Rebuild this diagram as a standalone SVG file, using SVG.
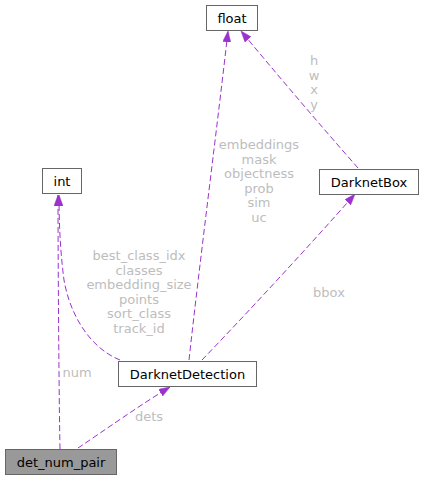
<svg xmlns="http://www.w3.org/2000/svg" width="423" height="480" viewBox="0 0 423 480">
<defs>
<marker id="arr" markerWidth="11" markerHeight="8" refX="11" refY="4" orient="auto" markerUnits="userSpaceOnUse">
<path d="M0,0 L11,4 L0,8 z" fill="#9a32cd" stroke="#9a32cd" stroke-width="0.5"/>
</marker>
<style>
.node rect{fill:#ffffff;stroke:#666666;stroke-width:1}
.node text{font-family:"DejaVu Sans",sans-serif;font-size:13px;fill:#000000;text-anchor:middle}
.edge{fill:none;stroke:#9a32cd;stroke-width:1;stroke-dasharray:6,3;marker-end:url(#arr)}
.lbl{font-family:"DejaVu Sans",sans-serif;font-size:13px;fill:#bdbdbd;text-anchor:middle}
</style>
</defs>
<rect width="423" height="480" fill="#ffffff"/>
<g id="connectors">
<path class="edge" d="M60,449 C59,400 58,260 58,195"/>
<path class="edge" d="M120,360 C90,348 70,315 64,280 C60,250 59,220 59,195"/>
<path class="edge" d="M78,448 C105,430 140,405 170,387"/>
<path class="edge" d="M189,360 C200,260 218,120 228,31"/>
<path class="edge" d="M202,360 C250,310 310,245 355,194"/>
<path class="edge" d="M358,168 C320,125 275,72 241,31"/>
<text class="lbl" x="77" y="377">num</text>
<text class="lbl" x="139" y="260">best_class_idx</text>
<text class="lbl" x="139" y="274.5">classes</text>
<text class="lbl" x="139" y="289">embedding_size</text>
<text class="lbl" x="139" y="303.5">points</text>
<text class="lbl" x="139" y="318">sort_class</text>
<text class="lbl" x="139" y="332.5">track_id</text>
<text class="lbl" x="149" y="421">dets</text>
<text class="lbl" x="259" y="149">embeddings</text>
<text class="lbl" x="259" y="163.5">mask</text>
<text class="lbl" x="259" y="178">objectness</text>
<text class="lbl" x="259" y="192.5">prob</text>
<text class="lbl" x="259" y="207">sim</text>
<text class="lbl" x="259" y="221.5">uc</text>
<text class="lbl" x="329" y="297">bbox</text>
<text class="lbl" x="314" y="65">h</text>
<text class="lbl" x="314" y="79.5">w</text>
<text class="lbl" x="314" y="94">x</text>
<text class="lbl" x="314" y="108.5">y</text>
</g>
<g id="det_num_pair" class="node">
<rect x="5.5" y="449.5" width="111" height="25" style="fill:#999999"/>
<text x="61" y="466.5">det_num_pair</text>
</g>
<g id="int" class="node">
<rect x="42.5" y="168.5" width="39" height="25"/>
<text x="62" y="185.5">int</text>
</g>
<g id="DarknetDetection" class="node">
<rect x="118.5" y="361.5" width="138" height="25"/>
<text x="187.5" y="378.5">DarknetDetection</text>
</g>
<g id="float" class="node">
<rect x="206.5" y="5.5" width="51" height="25"/>
<text x="232" y="22.5">float</text>
</g>
<g id="DarknetBox" class="node">
<rect x="319.5" y="169.5" width="99" height="25"/>
<text x="369" y="186.5">DarknetBox</text>
</g>
</svg>
